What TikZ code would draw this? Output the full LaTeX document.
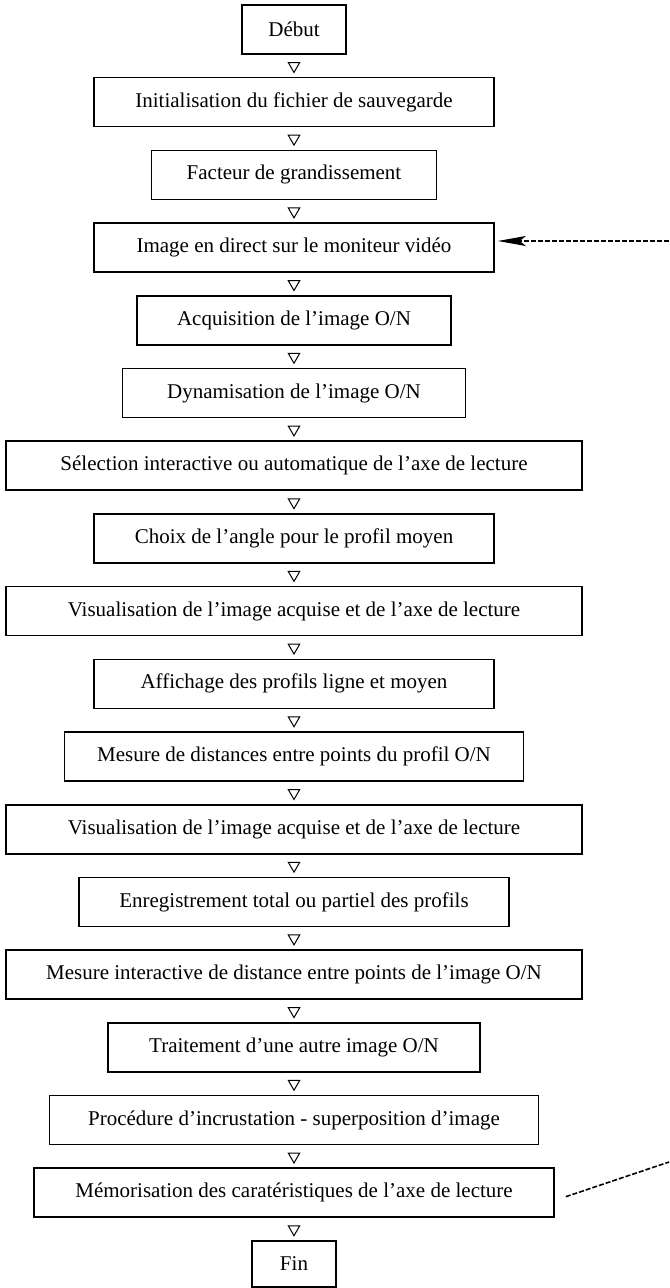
\documentclass[tikz,border=0pt]{standalone}
\usepackage{fontspec}
\setmainfont{Liberation Serif}
\usetikzlibrary{shapes.geometric,arrows.meta}

\tikzset{
  etape/.style={draw, line width=0.8pt, inner sep=0pt, minimum height=24.5pt,
    font=\fontsize{10.5}{12}\selectfont},
  suite/.style={draw, regular polygon, regular polygon sides=3, shape border rotate=180,
    minimum size=6.6pt, inner sep=0pt, line width=0.5pt},
  retour/.style={line width=0.8pt, dash pattern=on 2.5pt off 1pt}
}

\begin{document}
\begin{tikzpicture}[x=0.5pt,y=-0.5pt]
  \useasboundingbox (0,0) rectangle (669,1288);
  % les etapes
  \node [etape, minimum width=52pt] (debut) at (294,29.5) {Début};
  \node [etape, minimum width=200pt] (init) at (294,102.2) {Initialisation du fichier de sauvegarde};
  \node [etape, minimum width=142.5pt] (facteur) at (294,174.9) {Facteur de grandissement};
  \node [etape, minimum width=200pt] (direct) at (294,247.6) {Image en direct sur le moniteur vidéo};
  \node [etape, minimum width=157pt] (acquis) at (294,320.3) {Acquisition de l’image O/N};
  \node [etape, minimum width=171.5pt] (dynam) at (294,393) {Dynamisation de l’image O/N};
  \node [etape, minimum width=288pt] (select) at (294,465.7) {Sélection interactive ou automatique de l’axe de lecture};
  \node [etape, minimum width=200pt] (angle) at (294,538.4) {Choix de l’angle pour le profil moyen};
  \node [etape, minimum width=288pt] (visu) at (294,611.1) {Visualisation de l’image acquise et de l’axe de lecture};
  \node [etape, minimum width=200pt] (affich) at (294,683.8) {Affichage des profils ligne et moyen};
  \node [etape, minimum width=229.5pt] (mesprof) at (294,756.5) {Mesure de distances entre points du profil O/N};
  \node [etape, minimum width=288pt] (visubis) at (294,829.2) {Visualisation de l’image acquise et de l’axe de lecture};
  \node [etape, minimum width=215pt] (enreg) at (294,901.9) {Enregistrement total ou partiel des profils};
  \node [etape, minimum width=288pt] (mesimg) at (294,974.6) {Mesure interactive de distance entre points de l’image O/N};
  \node [etape, minimum width=186pt] (autre) at (294,1047.3) {Traitement d’une autre image O/N};
  \node [etape, minimum width=244.5pt] (incrust) at (294,1120) {Procédure d’incrustation - superposition d’image};
  \node [etape, minimum width=260pt] (memo) at (294,1192.7) {Mémorisation des caratéristiques de l’axe de lecture};
  \node [etape, minimum width=42pt, minimum height=23pt] (fin) at (294,1264) {Fin};

  % les triangles entre les etapes
  \path (debut) -- (init) node [suite, midway] {};
  \path (init) -- (facteur) node [suite, midway] {};
  \path (facteur) -- (direct) node [suite, midway] {};
  \path (direct) -- (acquis) node [suite, midway] {};
  \path (acquis) -- (dynam) node [suite, midway] {};
  \path (dynam) -- (select) node [suite, midway] {};
  \path (select) -- (angle) node [suite, midway] {};
  \path (angle) -- (visu) node [suite, midway] {};
  \path (visu) -- (affich) node [suite, midway] {};
  \path (affich) -- (mesprof) node [suite, midway] {};
  \path (mesprof) -- (visubis) node [suite, midway] {};
  \path (visubis) -- (enreg) node [suite, midway] {};
  \path (enreg) -- (mesimg) node [suite, midway] {};
  \path (mesimg) -- (autre) node [suite, midway] {};
  \path (autre) -- (incrust) node [suite, midway] {};
  \path (incrust) -- (memo) node [suite, midway] {};
  \path (memo) -- (fin) node [suite, midway] {};

  % retours en pointilles
  \coordinate (haut) at (669,241);
  \coordinate (bas) at (669,1162);
  \draw [retour, -{Stealth[length=14pt,width=5pt,inset=3pt]}, shorten >=1.5pt] (haut) -- (direct.east |- haut);
  \draw [retour] ([shift={(11,4)}]memo.east) -- (bas);
\end{tikzpicture}
\end{document}
